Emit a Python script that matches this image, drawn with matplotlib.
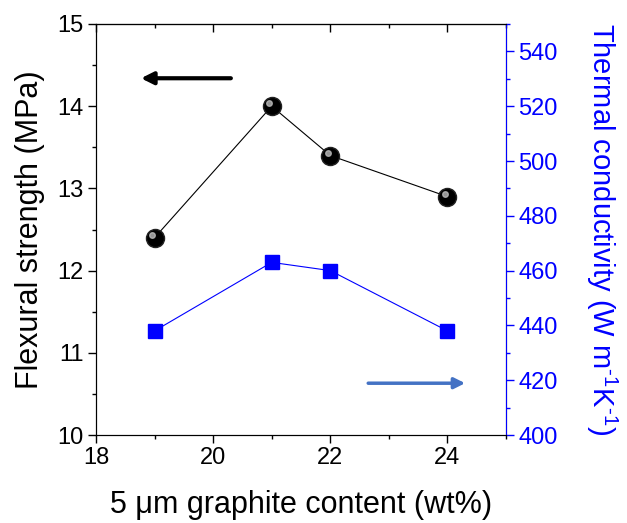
import matplotlib.pyplot as plt
from matplotlib.ticker import MultipleLocator
from matplotlib.transforms import offset_copy

plt.rcParams['font.family'] = ['Liberation Sans', 'DejaVu Sans']
plt.rcParams['mathtext.fontset'] = 'custom'
plt.rcParams['mathtext.rm'] = 'Liberation Sans'

# data
content = [19, 21, 22, 24]
flexural = [12.4, 14.0, 13.4, 12.9]
thermal = [438, 463, 460, 438]

fig = plt.figure(figsize=(6.27, 5.23), dpi=100)
ax = fig.add_axes([96 / 627, 88 / 523, 410 / 627, 411 / 523])
ax2 = ax.twinx()

# flexural strength (black spheres)
ax.plot(content, flexural, color='black', lw=0.8, marker='o', ms=13,
        markerfacecolor='black', markeredgecolor='#222222', zorder=3)
hl = offset_copy(ax.transData, fig=fig, x=-2, y=2, units='points')
ax.plot(content, flexural, ls='none', marker='o', ms=4, color='#bbbbbb',
        alpha=0.8, transform=hl, zorder=4)

# thermal conductivity (blue squares)
ax2.plot(content, thermal, color='blue', lw=0.8, marker='s', ms=10,
         markerfacecolor='blue', markeredgecolor='blue', zorder=3)

ax.set_xlim(18, 25)
ax.set_ylim(10, 15)
ax2.set_ylim(400, 550)

ax.xaxis.set_major_locator(MultipleLocator(2))
ax.xaxis.set_minor_locator(MultipleLocator(1))
ax.yaxis.set_major_locator(MultipleLocator(1))
ax.yaxis.set_minor_locator(MultipleLocator(0.5))
ax2.set_yticks([400, 420, 440, 460, 480, 500, 520, 540])
ax2.yaxis.set_minor_locator(MultipleLocator(10))

ax.tick_params(axis='both', which='major', direction='out', length=6, width=1,
               labelsize=17, pad=3)
ax.tick_params(axis='both', which='minor', direction='out', length=3, width=1)
ax2.tick_params(axis='y', which='major', direction='out', length=6, width=1,
                labelsize=17, colors='blue', pad=3)
ax2.tick_params(axis='y', which='minor', direction='out', length=3, width=1,
                colors='blue')
ax2.spines['right'].set_color('blue')

# top axis ticks pointing inward
top = ax.secondary_xaxis('top')
top.xaxis.set_major_locator(MultipleLocator(2))
top.xaxis.set_minor_locator(MultipleLocator(1))
top.tick_params(which='major', direction='in', length=6, width=1, labeltop=False)
top.tick_params(which='minor', direction='in', length=3, width=1)

ax.set_xlabel('5 \u03bcm graphite content (wt%)', fontsize=22, labelpad=15)
ax.set_ylabel('Flexural strength (MPa)', fontsize=22, labelpad=9)
ax2.set_ylabel('Thermal conductivity (W m$^{\\text{-}1}$K$^{\\text{-}1}$)',
               fontsize=21, color='blue', rotation=270, labelpad=44)

# direction arrows
ax.annotate('', xy=(18.72, 14.34), xytext=(20.35, 14.34),
            arrowprops=dict(arrowstyle='-|>', color='black', lw=3,
                            mutation_scale=18))
ax.annotate('', xy=(24.35, 10.63), xytext=(22.6, 10.63),
            arrowprops=dict(arrowstyle='-|>', color='#4472c4', lw=2.5,
                            mutation_scale=16))

plt.savefig('out.png', dpi=100)
